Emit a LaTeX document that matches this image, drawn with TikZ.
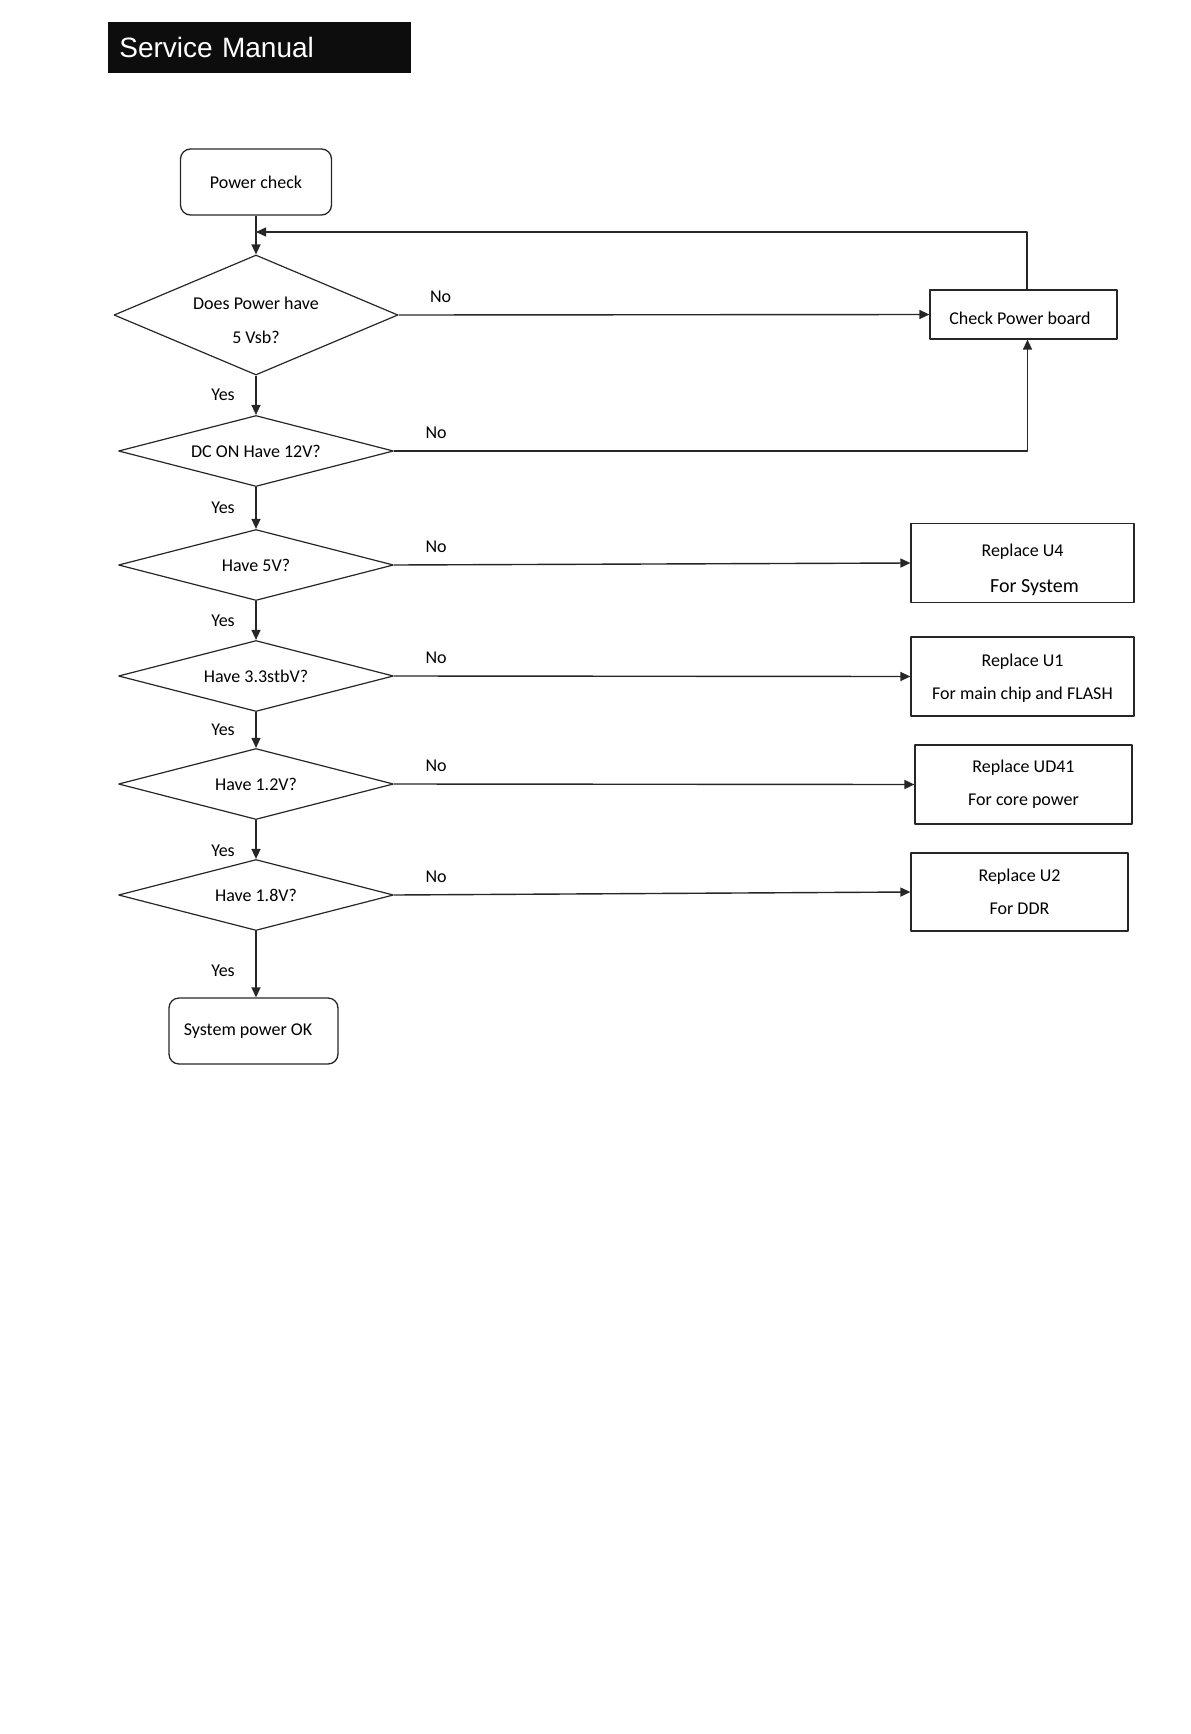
\documentclass[tikz,border=0pt]{standalone}
\usepackage{fontspec}
\setmainfont{Carlito}
\newfontfamily\hdrfont{Liberation Sans}
\usetikzlibrary{shapes.geometric,arrows.meta}
\begin{document}
\begin{tikzpicture}[x=0.5pt,y=-0.5pt,>={Triangle[length=5pt,width=4.5pt]},line join=round,font=\fontsize{9}{11}\selectfont,
	dec/.style={diamond,draw=black!85,line width=0.6pt,inner sep=0pt,aspect=4,minimum width=137.5pt,minimum height=35.5pt,align=center},
	endbox/.style={rectangle,rounded corners=5pt,draw=black!85,line width=0.65pt,minimum width=75.5pt,minimum height=33pt},
	fixbox/.style={rectangle,draw=black!85,line width=0.6pt,minimum width=111.5pt,minimum height=39pt,align=center,font=\fontsize{9}{16.5}\selectfont},
	link/.style={->,draw=black!85,line width=0.7pt},
	nolbl/.style={pos=0,xshift=21pt,yshift=9pt},
	yeslbl/.style={midway,xshift=-16.5pt}]
		\useasboundingbox (0,0) rectangle (1190,1734);
		\node[anchor=north west,fill=black!95,text=white,font=\hdrfont\fontsize{14}{16}\selectfont,inner xsep=5.5pt,text width=140.5pt,minimum height=25.5pt,align=left] (hdr) at (108,22) {Service Manual};
		% main column
		\node[endbox] (pcheck) at (256,182) {Power check};
		\node[dec,aspect=2.4,minimum width=142pt,minimum height=60pt,font=\fontsize{9}{17}\selectfont] (d1) at (256,315) {\rule{0pt}{12pt}Does Power have\\5 Vsb?};
		\node[dec] (d2) at (256,451) {DC ON Have 12V?};
		\node[dec] (d3) at (256,565) {Have 5V?};
		\node[dec] (d4) at (256,676) {Have 3.3stbV?};
		\node[dec] (d5) at (256,784) {Have 1.2V?};
		\node[dec] (d6) at (256,895) {Have 1.8V?};
		\node[endbox,minimum width=84.5pt] (sysok) at (253.5,1031) {System power OK\hspace*{5.5pt}};
		% right column
		\node[fixbox,minimum width=93.5pt,minimum height=24.5pt] (cpb) at (1023.5,314.5) {\rule{0pt}{9.8pt}Check Power board\hspace*{3.5pt}};
		\node[fixbox,font=\fontsize{9}{18}\selectfont] (ru4) at (1022.5,563) {\rule{0pt}{13pt}Replace U4\\\fontsize{10}{18}\selectfont\hspace*{12pt}For System};
		\node[fixbox,minimum height=39.5pt] (ru1) at (1022.5,676.5) {\rule{0pt}{8pt}Replace U1\\For main chip and FLASH};
		\node[fixbox,minimum width=108.5pt,minimum height=39.5pt] (rud41) at (1023.5,784.5) {Replace UD41\\For core power};
		\node[fixbox,minimum width=108.5pt] (ru2) at (1019.5,892) {Replace U2\\For DDR};
		\coordinate (back) at (256,232);
		% connectors
		\draw[link] (pcheck) -- (d1);
		\draw[link] ([xshift=1.75pt]cpb.north) |- (back);
		\draw[link] (d1.east) -- node[nolbl]{No} (cpb.west);
		\draw[link] (d2.east) -| node[nolbl]{No} ([xshift=2pt]cpb.south);
		\draw[link] (d3.east) -- node[nolbl]{No} (ru4.west);
		\draw[link] (d4.east) -- node[nolbl]{No} (ru1.west);
		\draw[link] (d5.east) -- node[nolbl]{No} (rud41.west);
		\draw[link] (d6.east) -- node[nolbl]{No} (ru2.west);
		\draw[link] (d1) -- node[yeslbl]{Yes} (d2);
		\draw[link] (d2) -- node[yeslbl]{Yes} (d3);
		\draw[link] (d3) -- node[yeslbl]{Yes} (d4);
		\draw[link] (d4) -- node[yeslbl]{Yes} (d5);
		\draw[link] (d5) -- node[yeslbl,pos=0.8]{Yes} (d6);
		\draw[link] (d6.south) -- node[yeslbl,pos=0.6]{Yes} (d6.south |- sysok.north);
\end{tikzpicture}
\end{document}
